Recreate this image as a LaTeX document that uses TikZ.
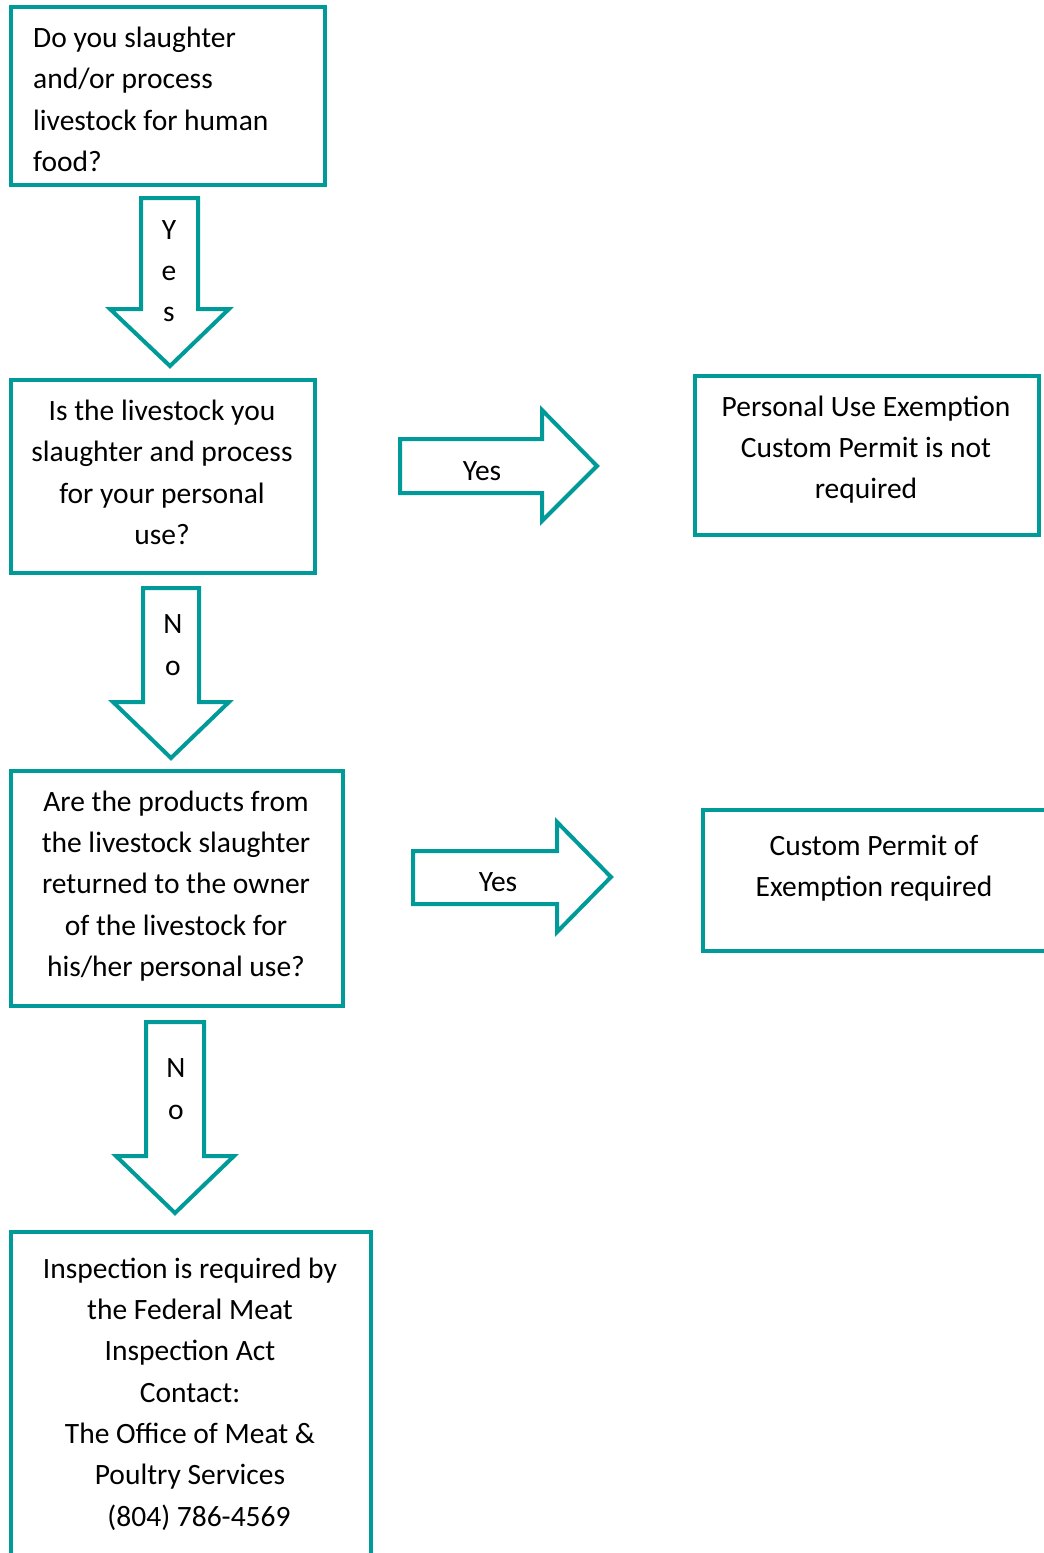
\documentclass[tikz,border=0pt]{standalone}
\usepackage{fontspec}
\setmainfont{Carlito}
\definecolor{tealc}{RGB}{0,155,152}
\begin{document}
\begin{tikzpicture}[x=1pt,y=-1pt,
  box/.style={draw=tealc,line width=4pt,rectangle,inner sep=0pt,outer sep=0pt,anchor=north west},
  txt/.style={align=center,font=\fontsize{29.5}{41.3}\selectfont,inner sep=0pt,text=black},
  barrow/.style={draw=tealc,line width=4pt,fill=white,line join=miter}]
\useasboundingbox (0,0) rectangle (1044,1553);
\clip (0,0) rectangle (1044,1553);
% boxes
\node[box,minimum width=314,minimum height=178] (q1) at (11,7) {};
\node[box,minimum width=304,minimum height=193] (q2) at (11,380) {};
\node[box,minimum width=344,minimum height=159] (r1) at (695,376) {};
\node[box,minimum width=332,minimum height=235] (q3) at (11,771) {};
\node[box,minimum width=360,minimum height=141] (r2) at (703,810) {};
\node[box,minimum width=360,minimum height=400] (r3) at (11,1232) {};
% texts
\node[txt,align=left,anchor=west] (t1) at (33,99.5) {Do you slaughter\\and/or process\\livestock for human\\food?};
\node[txt] (t2) at (162,472.5) {Is the livestock you\\slaughter and process\\for your personal\\use?};
\node[txt] (t3) at (866,449.5) {Personal Use Exemption\\Custom Permit is not\\required};
\node[txt] (t4) at (176,886) {Are the products from\\the livestock slaughter\\returned to the owner\\of the livestock for\\his/her personal use?};
\node[txt] (t5) at (874,868.5) {Custom Permit of\\Exemption required};
\node[txt] (t6) at (190,1394) {Inspection is required by\\the Federal Meat\\Inspection Act\\Contact:\\The Office of Meat \&\\Poultry Services\\\hspace*{18pt}(804) 786-4569};
% block arrows
\draw[barrow] (141,198) -- (198,198) -- (198,309) -- (229,309) -- (170,366) -- (110,309) -- (141,309) -- cycle;
\node[txt] (a1) at (169,271) {Y\\e\\s};
\draw[barrow] (143,588) -- (199,588) -- (199,702) -- (229,702) -- (171,758) -- (113,702) -- (143,702) -- cycle;
\node[txt] (a2) at (173,645) {N\\o};
\draw[barrow] (146,1022) -- (204,1022) -- (204,1156) -- (234,1156) -- (175,1213) -- (116,1156) -- (146,1156) -- cycle;
\node[txt] (a3) at (176,1089) {N\\o};
\draw[barrow] (400,439) -- (542,439) -- (542,410) -- (597,466) -- (542,521) -- (542,493) -- (400,493) -- cycle;
\node[txt] (a4) at (482,471) {Yes};
\draw[barrow] (413,851) -- (557,851) -- (557,822) -- (611,877) -- (557,932) -- (557,904) -- (413,904) -- cycle;
\node[txt] (a5) at (498,882) {Yes};
\end{tikzpicture}
\end{document}
